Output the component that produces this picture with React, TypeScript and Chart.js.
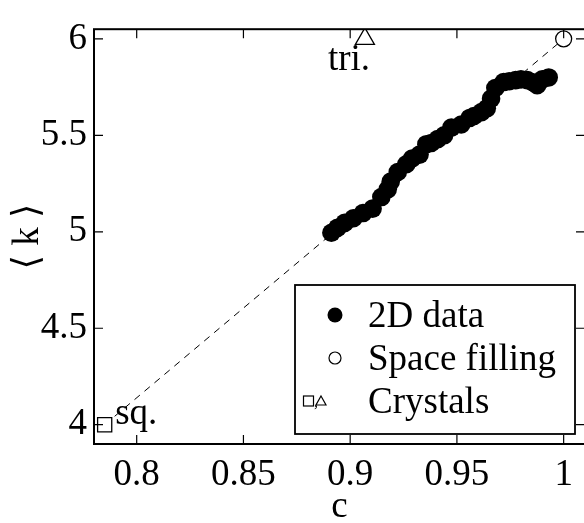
import React, { useEffect, useRef } from "react";
import { Chart, registerables } from "chart.js";

Chart.register(...registerables);

// 2D data (filled circles)
const dataC = [
  0.8912, 0.894, 0.8974, 0.9015, 0.906, 0.9105, 0.9146, 0.9176, 0.919, 0.9223,
  0.9263, 0.929, 0.9325, 0.9357, 0.938, 0.941, 0.944, 0.9474, 0.952, 0.956,
  0.958, 0.9615, 0.964, 0.966, 0.968, 0.9719, 0.9745, 0.9775, 0.98, 0.983,
  0.9855, 0.9876, 0.99, 0.993,
];
const dataK = [
  4.995, 5.02, 5.046, 5.07, 5.097, 5.12, 5.18, 5.22, 5.26, 5.31,
  5.35, 5.38, 5.4, 5.454, 5.46, 5.48, 5.5, 5.54, 5.556, 5.59,
  5.6, 5.62, 5.64, 5.69, 5.745, 5.776, 5.78, 5.786, 5.79, 5.786,
  5.775, 5.76, 5.79, 5.8,
];

// Space filling (open circle)
const fillC = [1];
const fillK = [6];

// Crystals
const squareC = [0.785];
const squareK = [4];
const triC = [0.9069];
const triK = [6];

// Dashed guide
const guideC = [0.785, 1];
const guideK = [4, 6];

// Ticks
const xTicks = [0.8, 0.85, 0.9, 0.95, 1];
const xTickLabels = ["0.8", "0.85", "0.9", "0.95", "1"];
const yTicks = [4, 4.5, 5, 5.5, 6];
const yTickLabels = ["4", "4.5", "5", "5.5", "6"];

const xTitle = "c";
const yTitle = "⟨ k ⟩";
const legendLabels = ["2D data", "Space filling", "Crystals"];
const annotationTexts = ["sq.", "tri."];

const FONT = "'Liberation Serif', 'Times New Roman', 'DejaVu Serif', serif";

const toPts = (xs: number[], ys: number[]) => xs.map((x, i) => ({ x, y: ys[i] }));

const framePlugin = {
  id: "framePlugin",
  afterDraw(chart: any) {
    const { ctx, chartArea: a, scales } = chart;
    const xs = scales.x;
    const ys = scales.y;
    ctx.save();
    ctx.strokeStyle = "#000";
    ctx.lineWidth = 2;
    ctx.strokeRect(a.left, a.top, a.right - a.left, a.bottom - a.top);
    // inward ticks on all sides
    const tl = 9;
    ctx.lineWidth = 1.2;
    ctx.beginPath();
    xTicks.forEach((v) => {
      const px = xs.getPixelForValue(v);
      ctx.moveTo(px, a.bottom);
      ctx.lineTo(px, a.bottom - tl);
      ctx.moveTo(px, a.top);
      ctx.lineTo(px, a.top + tl);
    });
    yTicks.forEach((v) => {
      const py = ys.getPixelForValue(v);
      ctx.moveTo(a.left, py);
      ctx.lineTo(a.left + tl, py);
      ctx.moveTo(a.right, py);
      ctx.lineTo(a.right - tl, py);
    });
    ctx.stroke();

    // annotations
    ctx.fillStyle = "#000";
    ctx.font = `37px ${FONT}`;
    ctx.textBaseline = "alphabetic";
    ctx.textAlign = "left";
    const sqx = xs.getPixelForValue(squareC[0]);
    const sqy = ys.getPixelForValue(squareK[0]);
    ctx.fillText(annotationTexts[0], sqx + 10.5, sqy - 1);
    const tx = xs.getPixelForValue(triC[0]);
    const ty = ys.getPixelForValue(triK[0]);
    ctx.fillText(annotationTexts[1], tx - 37, ty + 31);

    // legend
    const lx = 295, ly = 285, lw = 280, lh = 149;
    ctx.fillStyle = "#fff";
    ctx.fillRect(lx, ly, lw, lh);
    ctx.lineWidth = 1.8;
    ctx.strokeStyle = "#000";
    ctx.strokeRect(lx, ly, lw, lh);
    const textX = 368;
    const baselines = [327, 370, 413];
    ctx.fillStyle = "#000";
    ctx.font = `37px ${FONT}`;
    legendLabels.forEach((t, i) => ctx.fillText(t, textX, baselines[i]));
    // markers
    ctx.beginPath();
    ctx.arc(335, baselines[0] - 12, 7.5, 0, Math.PI * 2);
    ctx.fill();
    ctx.beginPath();
    ctx.lineWidth = 1.2;
    ctx.arc(335, baselines[1] - 12, 6, 0, Math.PI * 2);
    ctx.stroke();
    const cy = baselines[2] - 12;
    ctx.strokeRect(303.5, cy - 5, 10, 10);
    ctx.font = `16px ${FONT}`;
    ctx.fillText(",", 314, cy + 6);
    ctx.beginPath();
    ctx.moveTo(321, cy - 5);
    ctx.lineTo(326, cy + 4);
    ctx.lineTo(316, cy + 4);
    ctx.closePath();
    ctx.stroke();
    ctx.restore();
  },
};

export default function App() {
  const ref = useRef<HTMLCanvasElement>(null);
  useEffect(() => {
    if (!ref.current) return;
    const chart = new Chart(ref.current, {
      type: "scatter",
      data: {
        datasets: [
          {
            label: legendLabels[0],
            data: toPts(dataC, dataK),
            pointRadius: 9.3,
            pointBackgroundColor: "#000",
            pointBorderWidth: 0,
            backgroundColor: "#000",
          },
          {
            label: legendLabels[1],
            data: toPts(fillC, fillK),
            pointStyle: "circle",
            pointRadius: 8,
            pointBackgroundColor: "#fff",
            pointBorderColor: "#000",
            pointBorderWidth: 1.3,
          },
          {
            label: "square",
            data: toPts(squareC, squareK),
            pointStyle: "rect",
            pointRadius: 10,
            pointBackgroundColor: "#fff",
            pointBorderColor: "#000",
            pointBorderWidth: 1.3,
          },
          {
            label: "triangle",
            data: toPts(triC, triK),
            pointStyle: "triangle",
            pointRadius: 11,
            pointBackgroundColor: "#fff",
            pointBorderColor: "#000",
            pointBorderWidth: 1.3,
          },
          {
            label: "guide",
            data: toPts(guideC, guideK),
            showLine: true,
            pointRadius: 0,
            borderColor: "#000",
            borderWidth: 1,
            borderDash: [7, 6],
          },
        ],
      },
      options: {
        animation: false,
        responsive: false,
        maintainAspectRatio: false,
        layout: { padding: { left: 0, top: 23, right: 15, bottom: 0 } },
        plugins: {
          legend: { display: false },
          tooltip: { enabled: false },
        },
        scales: {
          x: {
            type: "linear",
            min: 0.78,
            max: 1.01,
            afterBuildTicks: (s: any) => {
              s.ticks = xTicks.map((v) => ({ value: v }));
            },
            afterFit: (s: any) => {
              s.height = 79;
            },
            grid: { display: false, drawTicks: false },
            border: { display: false },
            ticks: {
              autoSkip: false,
              maxRotation: 0,
              padding: 9,
              color: "#000",
              font: { family: FONT, size: 37, lineHeight: 1.2 },
              callback: (v: any) => xTickLabels[xTicks.indexOf(Number(v))],
            },
            title: {
              display: true,
              text: xTitle,
              color: "#000",
              padding: 0,
              font: { family: FONT, size: 37, lineHeight: 0.85 },
            },
          },
          y: {
            type: "linear",
            min: 3.9,
            max: 6.05,
            afterBuildTicks: (s: any) => {
              s.ticks = yTicks.map((v) => ({ value: v }));
            },
            afterFit: (s: any) => {
              s.width = 94;
            },
            grid: { display: false, drawTicks: false },
            border: { display: false },
            ticks: {
              autoSkip: false,
              padding: 7,
              color: "#000",
              font: { family: FONT, size: 37, lineHeight: 1.2 },
              callback: (v: any) => yTickLabels[yTicks.indexOf(Number(v))],
            },
            title: {
              display: true,
              text: yTitle,
              color: "#000",
              padding: { top: 10, bottom: 0 },
              font: { family: FONT, size: 37, lineHeight: 1 },
            },
          },
        },
      },
      plugins: [framePlugin],
    });
    return () => chart.destroy();
  }, []);
  return (
    <div
      style={{
        position: "absolute",
        left: 0,
        top: 0,
        width: 584,
        height: 523,
        overflow: "hidden",
        background: "#fff",
      }}
    >
      <canvas ref={ref} width={600} height={523} style={{ display: "block" }} />
    </div>
  );
}
